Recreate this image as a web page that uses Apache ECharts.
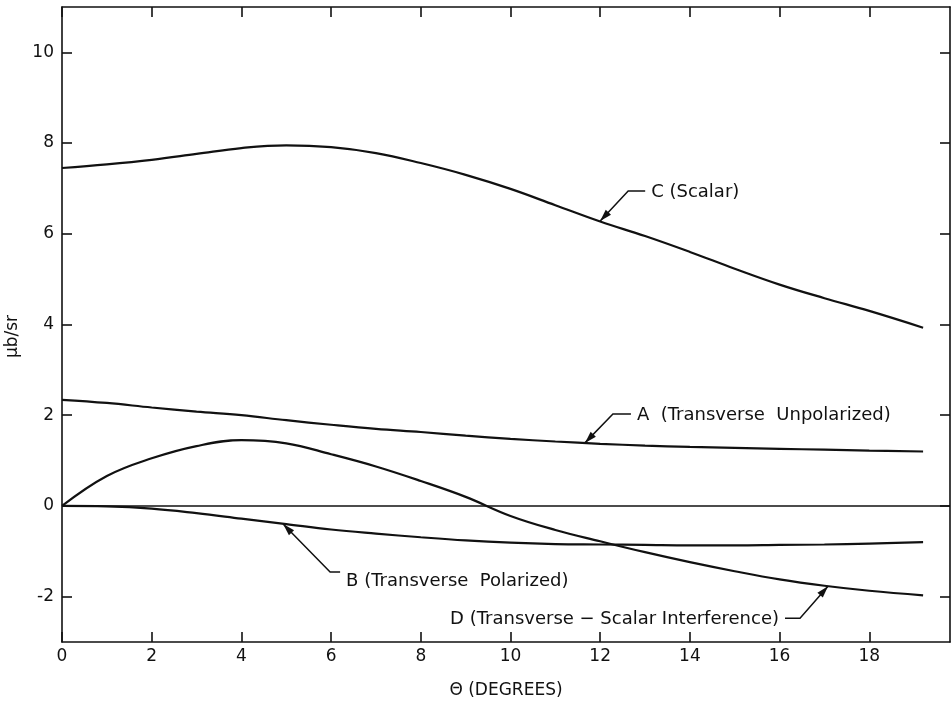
<!DOCTYPE html>
<html>
<head>
<meta charset="utf-8">
<script src="https://cdn.jsdelivr.net/npm/echarts@6/dist/echarts.min.js"></script>
<style>
  html, body { margin: 0; padding: 0; background: #fff; }
  #chart { width: 951px; height: 702px; }
</style>
</head>
<body>
<div id="chart"></div>
<script>
  // angle in degrees (μb/sr)
  var theta  = [0, 1, 2, 3, 4, 5, 6, 7, 8, 9, 10, 11, 12, 13, 14, 15, 16, 17, 18, 19.2];
  var curveA = [2.34, 2.27, 2.17, 2.08, 2.0, 1.89, 1.79, 1.7, 1.63, 1.55, 1.48, 1.42, 1.37, 1.33, 1.3, 1.28, 1.26, 1.24, 1.22, 1.2];
  var curveB = [0, -0.01, -0.06, -0.16, -0.28, -0.4, -0.52, -0.61, -0.69, -0.76, -0.81, -0.84, -0.85, -0.86, -0.87, -0.87, -0.86, -0.85, -0.83, -0.8];
  var curveC = [7.45, 7.53, 7.63, 7.76, 7.89, 7.95, 7.91, 7.78, 7.56, 7.3, 6.99, 6.63, 6.27, 5.95, 5.6, 5.23, 4.88, 4.58, 4.3, 3.93];
  var curveD = [0, 0.66, 1.05, 1.32, 1.45, 1.38, 1.14, 0.87, 0.55, 0.2, -0.22, -0.53, -0.78, -1.02, -1.24, -1.44, -1.62, -1.76, -1.87, -1.97];

  var xTicks = [0, 2, 4, 6, 8, 10, 12, 14, 16, 18];
  var yTicks = [-2, 0, 2, 4, 6, 8, 10];

  var labelA = 'A  (Transverse  Unpolarized)';
  var labelB = 'B (Transverse  Polarized)';
  var labelC = 'C (Scalar)';
  var labelD = 'D (Transverse − Scalar Interference)';

  function pairs(ys) {
    return theta.map(function (t, i) { return [t, ys[i]]; });
  }

  var ink = '#111';
  var fam = '"DejaVu Sans", sans-serif';

  const myChart = echarts.init(document.getElementById('chart'));

  function xAx(pos, showLabel) {
    return {
      type: 'value', position: pos, min: 0, max: 19.8,
      axisLine: { show: true, onZero: false, lineStyle: { color: ink, width: 1.6 } },
      axisTick: { show: true, inside: true, length: 10, customValues: xTicks, lineStyle: { color: ink, width: 1.6 } },
      axisLabel: { show: showLabel, customValues: xTicks, color: ink, fontSize: 17, fontFamily: fam, margin: 6 },
      splitLine: { show: false }
    };
  }
  function yAx(pos, showLabel) {
    return {
      type: 'value', position: pos, min: -3, max: 11,
      axisLine: { show: true, onZero: false, lineStyle: { color: ink, width: 1.6 } },
      axisTick: { show: true, inside: true, length: 10, customValues: yTicks, lineStyle: { color: ink, width: 1.6 } },
      axisLabel: { show: showLabel, customValues: yTicks, color: ink, fontSize: 17, fontFamily: fam, margin: 8 },
      splitLine: { show: false }
    };
  }

  var xBottom = xAx('bottom', true);
  xBottom.name = 'Θ (DEGREES)';
  xBottom.nameLocation = 'middle';
  xBottom.nameGap = 40;
  xBottom.nameTextStyle = { color: ink, fontSize: 17, fontFamily: fam };
  var xTop = xAx('top', false);

  var yLeft = yAx('left', true);
  yLeft.name = 'μb/sr';
  yLeft.nameLocation = 'middle';
  yLeft.nameGap = 29;
  yLeft.nameTextStyle = { color: ink, fontSize: 17, fontFamily: fam, padding: [0, 24, 0, 0] };
  var yRight = yAx('right', false);

  var lineStyle = { color: ink, width: 2.2 };

  function curve(name, ys) {
    return {
      name: name, type: 'line', data: pairs(ys),
      smooth: 0.4, smoothConstraint: false, showSymbol: false,
      lineStyle: lineStyle, itemStyle: { color: ink }
    };
  }

  var sA = curve('A', curveA);
  sA.markLine = {
    silent: true, symbol: 'none', label: { show: false },
    lineStyle: { color: ink, width: 1.5, type: 'solid' },
    data: [{ yAxis: 0 }]
  };

  let option = {
    backgroundColor: '#fff',
    animation: false,
    grid: { left: 62, right: 1, top: 7, bottom: 60, outerBoundsMode: 'none', containLabel: false },
    xAxis: [xBottom, xTop],
    yAxis: [yLeft, yRight],
    series: [sA, curve('B', curveB), curve('C', curveC), curve('D', curveD)]
  };
  myChart.setOption(option);

  /* leader lines with arrow heads */
  function px(p) { return myChart.convertToPixel({ gridIndex: 0 }, p); }

  function arrowHead(tip, from) {
    var dx = tip[0] - from[0], dy = tip[1] - from[1];
    var len = Math.sqrt(dx * dx + dy * dy);
    var ux = dx / len, uy = dy / len;
    var L = 12, W = 3.6;
    var bx = tip[0] - ux * L, by = tip[1] - uy * L;
    return {
      type: 'polygon',
      shape: { points: [tip, [bx - uy * W, by + ux * W], [bx + uy * W, by - ux * W]] },
      style: { fill: ink }
    };
  }

  // tip on the curve (data coords), elbow offset, horizontal run, label side
  function note(tipData, elbowOff, run, text, align) {
    var tip = px(tipData);
    var elbow = [tip[0] + elbowOff[0], tip[1] + elbowOff[1]];
    var end = [elbow[0] + run, elbow[1]];
    var tx = end[0] + (run > 0 ? 6 : -6);
    return [
      { type: 'polyline', shape: { points: [end, elbow, tip] }, style: { stroke: ink, lineWidth: 1.5, fill: null } },
      arrowHead(tip, elbow),
      {
        type: 'text', x: tx, y: elbow[1] + (align.dy || 0),
        style: { text: text, fill: ink, fontSize: 18, fontFamily: fam, align: align.h, verticalAlign: 'middle' }
      }
    ];
  }

  var g = [];
  g = g.concat(note([12.0, 6.28], [28, -30], 17, labelC, { h: 'left', dy: 1 }));
  g = g.concat(note([11.66, 1.39], [28, -29], 18, labelA, { h: 'left', dy: 1 }));
  g = g.concat(note([4.93, -0.4], [47, 48], 10, labelB, { h: 'left', dy: 9 }));
  g = g.concat(note([17.08, -1.77], [-28, 32], -15, labelD, { h: 'right', dy: 1 }));

  myChart.setOption({ graphic: g });
</script>
</body>
</html>
